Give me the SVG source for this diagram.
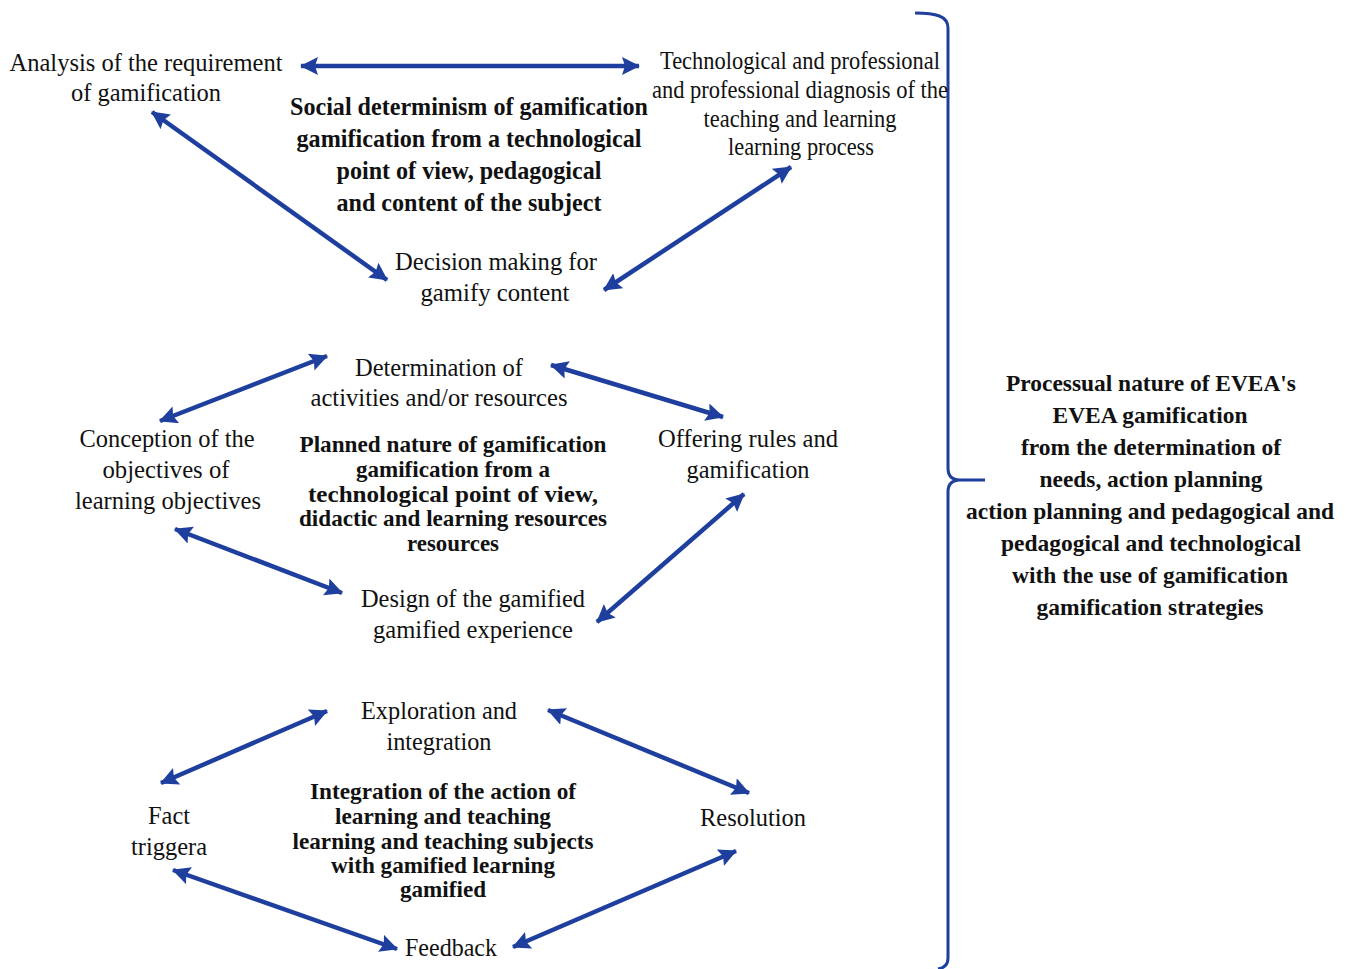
<svg xmlns="http://www.w3.org/2000/svg" width="1350" height="969" viewBox="0 0 1350 969" font-family="'Liberation Serif', serif">
<style>
text{fill:#111;text-anchor:middle}
.r{font-size:26px}
.b{font-size:25px;font-weight:bold}
.t{font-size:22.5px;font-weight:bold}
.rb{font-size:23.5px;font-weight:bold}
.c{stroke:#1e3f9e;stroke-width:4.5;fill:none;marker-start:url(#ah);marker-end:url(#ah)}
</style>
<defs>
<marker id="ah" markerUnits="userSpaceOnUse" markerWidth="18" markerHeight="18" refX="17" refY="9" orient="auto-start-reverse" viewBox="0 0 18 18">
<path d="M0,0 L18,9 L0,18 L3,9 z" fill="#1e3f9e"/>
</marker>
</defs>
<rect width="1350" height="969" fill="#fff"/>

<g id="connectors">
<line class="c" x1="301" y1="66" x2="639" y2="66"/>
<line class="c" x1="152" y1="112" x2="387" y2="280"/>
<line class="c" x1="604" y1="290" x2="791" y2="167"/>
<line class="c" x1="160" y1="421" x2="327" y2="356"/>
<line class="c" x1="551" y1="365" x2="723" y2="417"/>
<line class="c" x1="175" y1="529" x2="342" y2="593"/>
<line class="c" x1="597" y1="622" x2="744" y2="494"/>
<line class="c" x1="161" y1="783" x2="327" y2="711"/>
<line class="c" x1="548" y1="710" x2="749" y2="793"/>
<line class="c" x1="173" y1="870" x2="397" y2="949"/>
<line class="c" x1="513" y1="947" x2="736" y2="851"/>
<path d="M915,13 C936,13 948,16 948,28 L948,468 C948,476 952,480 960,480 L985,480 M960,480 C952,480 948,484 948,492 L948,958 C948,965 944,968 938,969" stroke="#1e3f9e" stroke-width="3" fill="none"/>
</g>

<g id="analysis">
<text class="r" x="146" y="71" textLength="273" lengthAdjust="spacingAndGlyphs">Analysis of the requirement</text>
<text class="r" x="146" y="101" textLength="150" lengthAdjust="spacingAndGlyphs">of gamification</text>
</g>
<g id="social">
<text class="b" x="469" y="115" textLength="358" lengthAdjust="spacingAndGlyphs">Social determinism of gamification</text>
<text class="b" x="469" y="147" textLength="345" lengthAdjust="spacingAndGlyphs">gamification from a technological</text>
<text class="b" x="469" y="179" textLength="265" lengthAdjust="spacingAndGlyphs">point of view, pedagogical</text>
<text class="b" x="469" y="211" textLength="265" lengthAdjust="spacingAndGlyphs">and content of the subject</text>
</g>
<g id="technological">
<text class="r" x="800" y="69" textLength="280" lengthAdjust="spacingAndGlyphs">Technological and professional</text>
<text class="r" x="800" y="98" textLength="296" lengthAdjust="spacingAndGlyphs">and professional diagnosis of the</text>
<text class="r" x="800" y="127" textLength="193" lengthAdjust="spacingAndGlyphs">teaching and learning</text>
<text class="r" x="801" y="155" textLength="146" lengthAdjust="spacingAndGlyphs">learning process</text>
</g>
<g id="decision">
<text class="r" x="496" y="270" textLength="202" lengthAdjust="spacingAndGlyphs">Decision making for</text>
<text class="r" x="495" y="301" textLength="149" lengthAdjust="spacingAndGlyphs">gamify content</text>
</g>

<g id="determination">
<text class="r" x="439" y="376" textLength="168" lengthAdjust="spacingAndGlyphs">Determination of</text>
<text class="r" x="439" y="406" textLength="257" lengthAdjust="spacingAndGlyphs">activities and/or resources</text>
</g>
<g id="conception">
<text class="r" x="167" y="447" textLength="175" lengthAdjust="spacingAndGlyphs">Conception of the</text>
<text class="r" x="166" y="478" textLength="127" lengthAdjust="spacingAndGlyphs">objectives of</text>
<text class="r" x="168" y="509" textLength="186" lengthAdjust="spacingAndGlyphs">learning objectives</text>
</g>
<g id="planned">
<text class="t" x="453" y="452" textLength="307" lengthAdjust="spacingAndGlyphs">Planned nature of gamification</text>
<text class="t" x="453" y="477" textLength="194" lengthAdjust="spacingAndGlyphs">gamification from a</text>
<text class="t" x="453" y="502" textLength="290" lengthAdjust="spacingAndGlyphs">technological point of view,</text>
<text class="t" x="453" y="526" textLength="308" lengthAdjust="spacingAndGlyphs">didactic and learning resources</text>
<text class="t" x="453" y="551" textLength="92" lengthAdjust="spacingAndGlyphs">resources</text>
</g>
<g id="offering">
<text class="r" x="748" y="447" textLength="180" lengthAdjust="spacingAndGlyphs">Offering rules and</text>
<text class="r" x="748" y="478" textLength="123" lengthAdjust="spacingAndGlyphs">gamification</text>
</g>
<g id="design">
<text class="r" x="473" y="607" textLength="224" lengthAdjust="spacingAndGlyphs">Design of the gamified</text>
<text class="r" x="473" y="638" textLength="200" lengthAdjust="spacingAndGlyphs">gamified experience</text>
</g>

<g id="exploration">
<text class="r" x="439" y="719" textLength="156" lengthAdjust="spacingAndGlyphs">Exploration and</text>
<text class="r" x="439" y="750" textLength="105" lengthAdjust="spacingAndGlyphs">integration</text>
</g>
<g id="fact">
<text class="r" x="169" y="824" textLength="42" lengthAdjust="spacingAndGlyphs">Fact</text>
<text class="r" x="169" y="855" textLength="76" lengthAdjust="spacingAndGlyphs">triggera</text>
</g>
<g id="integration">
<text class="t" x="443" y="799" textLength="266" lengthAdjust="spacingAndGlyphs">Integration of the action of</text>
<text class="t" x="443" y="824" textLength="216" lengthAdjust="spacingAndGlyphs">learning and teaching</text>
<text class="t" x="443" y="849" textLength="301" lengthAdjust="spacingAndGlyphs">learning and teaching subjects</text>
<text class="t" x="443" y="873" textLength="224" lengthAdjust="spacingAndGlyphs">with gamified learning</text>
<text class="t" x="443" y="897" textLength="86" lengthAdjust="spacingAndGlyphs">gamified</text>
</g>
<g id="resolution">
<text class="r" x="753" y="826" textLength="106" lengthAdjust="spacingAndGlyphs">Resolution</text>
</g>
<g id="feedback">
<text class="r" x="451" y="956" textLength="92" lengthAdjust="spacingAndGlyphs">Feedback</text>
</g>

<g id="processual">
<text class="rb" x="1151" y="391" textLength="290" lengthAdjust="spacingAndGlyphs">Processual nature of EVEA's</text>
<text class="rb" x="1150" y="423" textLength="195" lengthAdjust="spacingAndGlyphs">EVEA gamification</text>
<text class="rb" x="1151" y="455" textLength="260" lengthAdjust="spacingAndGlyphs">from the determination of</text>
<text class="rb" x="1151" y="487" textLength="223" lengthAdjust="spacingAndGlyphs">needs, action planning</text>
<text class="rb" x="1150" y="519" textLength="368" lengthAdjust="spacingAndGlyphs">action planning and pedagogical and</text>
<text class="rb" x="1151" y="551" textLength="300" lengthAdjust="spacingAndGlyphs">pedagogical and technological</text>
<text class="rb" x="1150" y="583" textLength="276" lengthAdjust="spacingAndGlyphs">with the use of gamification</text>
<text class="rb" x="1150" y="615" textLength="227" lengthAdjust="spacingAndGlyphs">gamification strategies</text>
</g>
</svg>
